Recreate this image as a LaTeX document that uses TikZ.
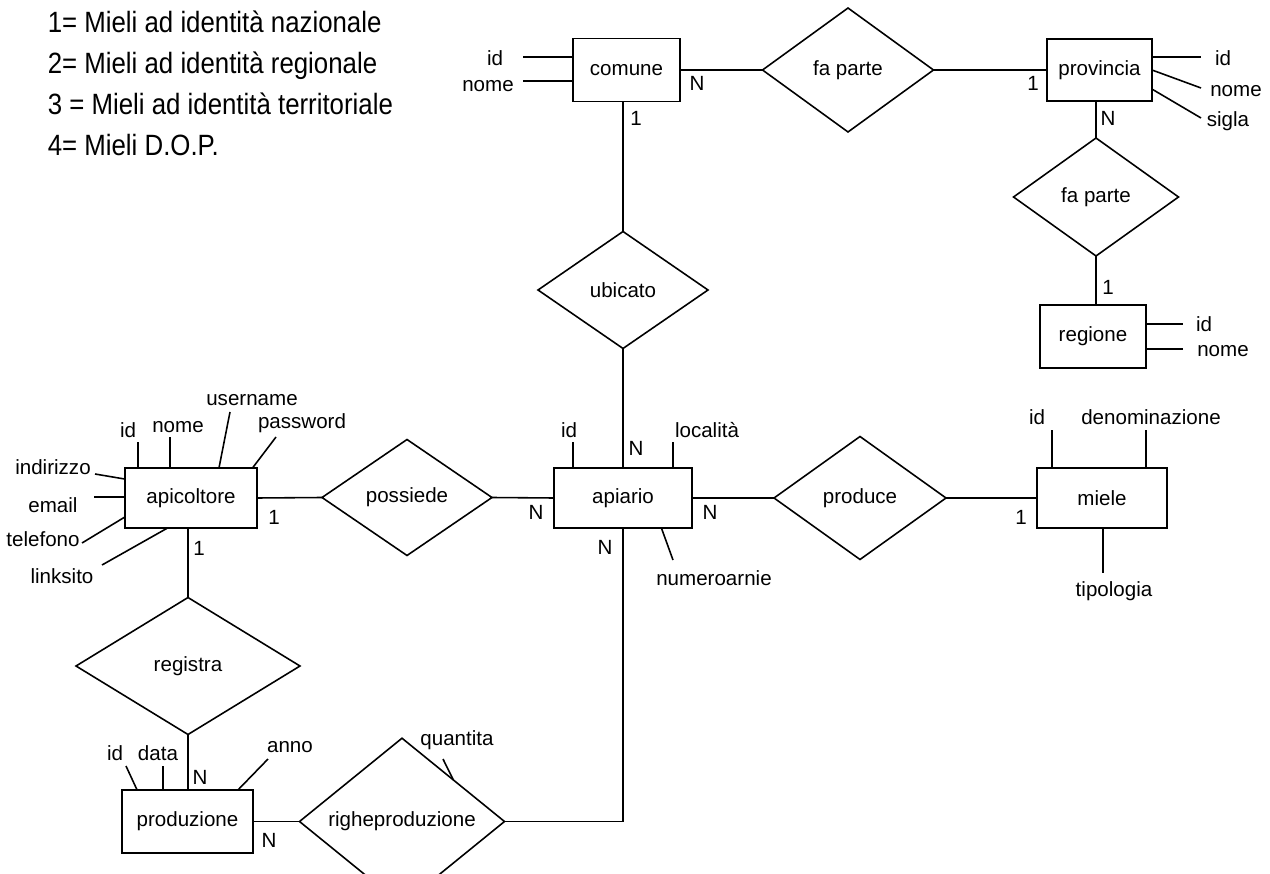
\documentclass[tikz,border=0pt]{standalone}
\usepackage{fontspec}
\setmainfont{Liberation Sans}
\newfontfamily\legendfamily[FakeStretch=0.88]{Liberation Sans}
\usetikzlibrary{shapes.geometric, calc}
\newcommand{\erfont}{\fontsize{11.7pt}{14pt}\selectfont}
\newcommand{\legfont}{\legendfamily\fontsize{16.7pt}{20pt}\selectfont}

\begin{document}
\begin{tikzpicture}[x=0.02cm, y=-0.02cm, line width=0.9pt,
    entity/.style={draw, rectangle, inner sep=0pt, outer sep=0pt, font=\erfont},
    relation/.style={draw, diamond, inner sep=0pt, outer sep=0pt, font=\erfont},
    attrib/.style={inner sep=0pt, font=\erfont},
    card/.style={inner sep=0pt, font=\erfont},
    legend/.style={anchor=base west, inner sep=0pt, font=\legfont}]
    \useasboundingbox (0,0) rectangle (1270,874);

    % Legend
    \node[legend] (leg1) at (47,33) {1= Mieli ad identità nazionale};
    \node[legend] (leg2) at (47,74) {2= Mieli ad identità regionale};
    \node[legend] (leg3) at (47,115) {3 = Mieli ad identità territoriale};
    \node[legend] (leg4) at (47,156) {4= Mieli D.O.P.};

    % Entities
    \node[entity, minimum width=2.14cm, minimum height=1.26cm] (comune) at (626.5,70) {comune};
    \node[entity, minimum width=2.10cm, minimum height=1.24cm] (provincia) at (1099.5,70) {provincia};
    \node[entity, minimum width=2.12cm, minimum height=1.26cm] (regione) at (1093,336.5) {regione};
    \node[entity, minimum width=2.76cm, minimum height=1.20cm] (apiario) at (623,498) {apiario};
    \node[entity, minimum width=2.64cm, minimum height=1.20cm] (apicoltore) at (191,498) {apicoltore};
    \node[entity, minimum width=2.60cm, minimum height=1.20cm] (miele) at (1102,498) {miele};
    \node[entity, minimum width=2.62cm, minimum height=1.26cm] (produzione) at (187.5,821.5) {produzione};

    % Relationships
    \node[relation, minimum width=3.42cm, minimum height=2.48cm] (fp1) at (848,70) {fa parte};
    \node[relation, minimum width=3.30cm, minimum height=2.36cm] (fp2) at (1096,197) {fa parte};
    \node[relation, minimum width=3.40cm, minimum height=2.34cm] (ubicato) at (623,290) {ubicato};
    \node[relation, minimum width=3.40cm, minimum height=2.32cm] (possiede) at (407,497.5) {possiede};
    \node[relation, minimum width=3.44cm, minimum height=2.46cm] (produce) at (860,498) {produce};
    \node[relation, minimum width=4.48cm, minimum height=2.74cm] (registra) at (188,666) {registra};
    \node[relation, minimum width=4.10cm, minimum height=2.20cm] (righe) at (402,821.5) {righeproduzione};

    % Links
    \draw (comune.east) -- (fp1.west);
    \draw (fp1.east) -- (provincia.west);
    \draw (provincia.south -| fp2.north) -- (fp2.north);
    \draw (fp2.south) -- (fp2.south |- regione.north);
    \draw (comune.south -| ubicato.north) -- (ubicato.north);
    \draw (ubicato.south) -- (apiario.north);
    \draw (apicoltore.east) -- (possiede.west);
    \draw (possiede.east) -- (apiario.west);
    \draw (apiario.east) -- (produce.west);
    \draw (produce.east) -- (miele.west);
    \draw (apicoltore.south -| registra.north) -- (registra.north);
    \draw (registra.south) -- (registra.south |- produzione.north);
    \draw (produzione.east) -- (righe.west);
    \draw (righe.east) -| (apiario.south);

    % Cardinalities
    \node[card] (k1) at (697,83) {N};
    \node[card] (k2) at (636,118) {1};
    \node[card] (k3) at (1033,83) {1};
    \node[card] (k4) at (1108,118) {N};
    \node[card] (k5) at (1108,287) {1};
    \node[card] (k6) at (636,448) {N};
    \node[card] (k7) at (536,512) {N};
    \node[card] (k8) at (710,512) {N};
    \node[card] (k9) at (605,547) {N};
    \node[card] (k10) at (274,517) {1};
    \node[card] (k11) at (199,548) {1};
    \node[card] (k12) at (1021,517) {1};
    \node[card] (k13) at (200,777) {N};
    \node[card] (k14) at (269,840) {N};

    % Attributes of comune
    \coordinate (c-id) at (523,57);
    \coordinate (c-nome) at (523,81);
    \draw (comune.west |- c-id) -- (c-id);
    \draw (comune.west |- c-nome) -- (c-nome);
    \node[attrib] (c-id-t) at (495,58) {id};
    \node[attrib] (c-nome-t) at (488,86) {nome};

    % Attributes of provincia
    \coordinate (p-id) at (1201,57);
    \coordinate (p-nome) at (1201,88);
    \coordinate (p-sigla) at (1201,118);
    \draw (provincia.east |- p-id) -- (p-id);
    \draw (provincia.east) -- (p-nome);
    \draw (provincia.-20) -- (p-sigla);
    \node[attrib] (p-id-t) at (1223,58) {id};
    \node[attrib] (p-nome-t) at (1236,91) {nome};
    \node[attrib] (p-sigla-t) at (1228,121) {sigla};

    % Attributes of regione
    \coordinate (r-id) at (1183,324);
    \coordinate (r-nome) at (1183,349);
    \draw (regione.east |- r-id) -- (r-id);
    \draw (regione.east |- r-nome) -- (r-nome);
    \node[attrib] (r-id-t) at (1204,324) {id};
    \node[attrib] (r-nome-t) at (1223,351) {nome};

    % Attributes of apicoltore
    \coordinate (a-id) at (138,442);
    \coordinate (a-nome) at (170,437);
    \coordinate (a-user) at (230,412);
    \coordinate (a-pass) at (276,437);
    \coordinate (a-ind) at (95,474);
    \coordinate (a-email) at (94,497);
    \coordinate (a-tel) at (82,543);
    \coordinate (a-link) at (102,565);
    \draw (apicoltore.north -| a-id) -- (a-id);
    \draw (apicoltore.north -| a-nome) -- (a-nome);
    \draw (apicoltore.47) -- (a-user);
    \draw (apicoltore.26) -- (a-pass);
    \draw (apicoltore.164) -- (a-ind);
    \draw (apicoltore.west |- a-email) -- (a-email);
    \draw (apicoltore.196) -- (a-tel);
    \draw (apicoltore.232) -- (a-link);
    \node[attrib] (a-id-t) at (128,430) {id};
    \node[attrib] (a-nome-t) at (178,427) {nome};
    \node[attrib] (a-user-t) at (252,400) {username};
    \node[attrib] (a-pass-t) at (302,423) {password};
    \node[attrib] (a-ind-t) at (53,467) {indirizzo};
    \node[attrib] (a-email-t) at (53,505) {email};
    \node[attrib] (a-tel-t) at (43,539) {telefono};
    \node[attrib] (a-link-t) at (62,576) {linksito};

    % Attributes of apiario
    \coordinate (ap-id) at (573,442);
    \coordinate (ap-loc) at (673,442);
    \coordinate (ap-num) at (673,560);
    \draw (apiario.north -| ap-id) -- (ap-id);
    \draw (apiario.north -| ap-loc) -- (ap-loc);
    \draw (apiario.-38) -- (ap-num);
    \node[attrib] (ap-id-t) at (569,430) {id};
    \node[attrib] (ap-loc-t) at (707,430) {località};
    \node[attrib] (ap-num-t) at (714,578) {numeroarnie};

    % Attributes of miele
    \coordinate (m-id) at (1052,430);
    \coordinate (m-den) at (1146,430);
    \coordinate (m-tip) at (1103,573);
    \draw (miele.north -| m-id) -- (m-id);
    \draw (miele.north -| m-den) -- (m-den);
    \draw (miele.south -| m-tip) -- (m-tip);
    \node[attrib] (m-id-t) at (1037,417) {id};
    \node[attrib] (m-den-t) at (1151,417) {denominazione};
    \node[attrib] (m-tip-t) at (1114,591) {tipologia};

    % Attributes of produzione and righeproduzione
    \coordinate (pr-id) at (126,766);
    \coordinate (pr-data) at (163,766);
    \coordinate (pr-anno) at (268,759);
    \coordinate (rp-q) at (443,759);
    \draw (produzione.148.5) -- (pr-id);
    \draw (produzione.north -| pr-data) -- (pr-data);
    \draw (produzione.32) -- (pr-anno);
    \draw (righe.39) -- (rp-q);
    \node[attrib] (pr-id-t) at (115,753) {id};
    \node[attrib] (pr-data-t) at (158,753) {data};
    \node[attrib] (pr-anno-t) at (290,747) {anno};
    \node[attrib] (rp-q-t) at (457,740) {quantita};
\end{tikzpicture}
\end{document}
